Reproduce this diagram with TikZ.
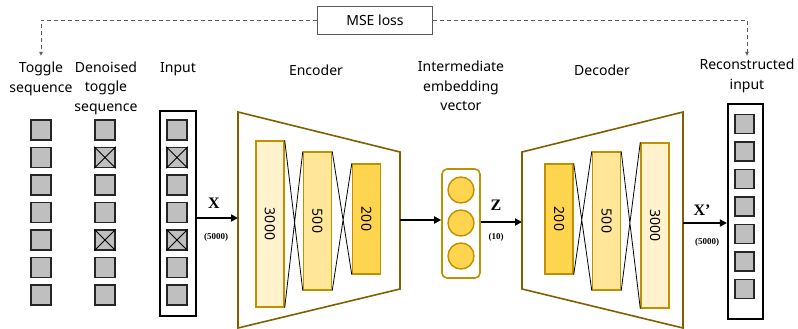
\documentclass[tikz,border=0pt]{standalone}
\usepackage{fontspec}
\setmainfont{Noto Sans}
\newfontfamily\numfont{Liberation Serif}
\usetikzlibrary{arrows.meta}

\definecolor{cellgray}{HTML}{BFBFBF}
\definecolor{olive}{HTML}{7F6000}
\definecolor{gold}{HTML}{BF9000}
\definecolor{layerA}{HTML}{FFF2CC}
\definecolor{layerB}{HTML}{FFE699}
\definecolor{layerC}{HTML}{FFD54F}
\definecolor{lossgray}{HTML}{595959}

\tikzset{
  lbl/.style={align=center, font=\fontsize{14}{19.5}\selectfont, inner sep=0pt},
  cell/.style={draw=black!85, fill=cellgray, line width=1.6pt, minimum size=20pt, inner sep=0pt},
  column/.style={draw=black, line width=2.2pt, inner sep=0pt},
  layer/.style={draw=gold, line width=1.4pt, minimum width=28pt, inner sep=0pt, font=\fontsize{14}{16}\selectfont},
  unit/.style={circle, draw=gold, fill=layerC, line width=1.4pt, minimum size=26pt, inner sep=0pt},
  arr/.style={line width=2.2pt, -{Triangle[length=7pt,width=7pt]}},
  lossline/.style={draw=lossgray, dashed, dash pattern=on 4pt off 3pt, line width=0.8pt},
  vec/.style={font=\numfont\bfseries\fontsize{16}{16}\selectfont},
  dim/.style={font=\numfont\bfseries\fontsize{9}{9}\selectfont}
}

\begin{document}
\begin{tikzpicture}[x=1pt, y=-1pt]

        \useasboundingbox (0,0) rectangle (798,329);

        %Titles
        \node [lbl] (toggletitle) at (41,79) {Toggle\\sequence};
        \node [lbl] (denoisedtitle) at (106,88) {Denoised\\toggle\\sequence};
        \node [lbl] (inputtitle) at (178,69) {Input};
        \node [lbl] (enctitle) at (316,70) {Encoder};
        \node [lbl] (embtitle) at (461,86) {Intermediate\\embedding\\vector};
        \node [lbl] (dectitle) at (602,70) {Decoder};
        \node [lbl] (recontitle) at (747,76) {Reconstructed\\input};

        %MSE loss
        \node [draw=lossgray, line width=0.8pt, minimum width=115pt, minimum height=28pt, font=\fontsize{14}{16}\selectfont] (mse) at (375,20) {MSE loss};
        \coordinate (lossL) at (41,56);
        \coordinate (lossR) at (747,56);
        \draw [lossline, -{Latex[length=4pt,width=4pt]}] (mse.west) -| (lossL);
        \draw [lossline, -{Latex[length=4pt,width=4pt]}] (mse.east) -| (lossR);

        %Toggle sequence
        \foreach \i in {0,...,6}
          \node [cell] (tog\i) at (41,130+27.5*\i) {};

        %Denoised toggle sequence
        \foreach \i in {0,...,6}
          \node [cell] (den\i) at (105,130+27.5*\i) {};
        \draw [line width=1pt] (den1.north west) -- (den1.south east) (den1.south west) -- (den1.north east);
        \draw [line width=1pt] (den4.north west) -- (den4.south east) (den4.south west) -- (den4.north east);

        %Input
        \node [column, minimum width=36pt, minimum height=205pt] (inbox) at (178,213.5) {};
        \foreach \i in {0,...,6}
          \node [cell] (in\i) at (177,130+27.5*\i) {};
        \draw [line width=1pt] (in1.north west) -- (in1.south east) (in1.south west) -- (in1.north east);
        \draw [line width=1pt] (in4.north west) -- (in4.south east) (in4.south west) -- (in4.north east);

        %Encoder
        \draw [draw=olive, line width=1.6pt] (238,112) -- (400,152) -- (400,289) -- (238,328) -- cycle;
        \coordinate (encin) at (238,218);
        \coordinate (encout) at (400,220);
        \node [layer, fill=layerA, minimum height=166pt] (enc1) at (270,224) {\rotatebox{-90}{3000}};
        \node [layer, fill=layerB, minimum height=138pt] (enc2) at (317.5,221) {\rotatebox{-90}{500}};
        \node [layer, fill=layerC, minimum height=110pt] (enc3) at (366.5,219) {\rotatebox{-90}{200}};
        \draw [line width=0.8pt] (enc1.north east) -- (enc2.south west) (enc1.south east) -- (enc2.north west);
        \draw [line width=0.8pt] (enc2.north east) -- (enc3.south west) (enc2.south east) -- (enc3.north west);

        \draw [arr] (inbox.east |- encin) -- (encin);
        \node [vec] (xlbl) at (214,203) {X};
        \node [dim] (xdim) at (216,237) {(5000)};

        %Intermediate embedding vector
        \node [draw=gold, line width=1.6pt, rounded corners=5pt, minimum width=38pt, minimum height=109pt, inner sep=0pt] (emb) at (461,223.5) {};
        \node [unit] (z0) at (461,190) {};
        \node [unit] (z1) at (461,223) {};
        \node [unit] (z2) at (461,256) {};
        \draw [arr] (encout) -- (emb.west |- encout);

        %Decoder
        \draw [draw=olive, line width=1.6pt] (522,152) -- (683,112) -- (683,328) -- (522,289) -- cycle;
        \coordinate (decin) at (522,222);
        \coordinate (decout) at (683,223);
        \node [layer, fill=layerC, minimum height=110pt] (dec1) at (559,219) {\rotatebox{-90}{200}};
        \node [layer, fill=layerB, minimum height=138pt] (dec2) at (606.5,221) {\rotatebox{-90}{500}};
        \node [layer, fill=layerA, minimum height=165pt] (dec3) at (655,225.5) {\rotatebox{-90}{3000}};
        \draw [line width=0.8pt] (dec1.north east) -- (dec2.south west) (dec1.south east) -- (dec2.north west);
        \draw [line width=0.8pt] (dec2.north east) -- (dec3.south west) (dec2.south east) -- (dec3.north west);

        \draw [arr] (emb.east |- decin) -- (decin);
        \node [vec] (zlbl) at (496,205) {Z};
        \node [dim] (zdim) at (496,237) {(10)};

        %Reconstructed input
        \node [column, minimum width=35pt, minimum height=215pt] (outbox) at (745.5,211.5) {};
        \foreach \i in {0,...,6}
          \node [cell, minimum size=19pt] (out\i) at (744.5,124+27.5*\i) {};

        \draw [arr] (decout) -- (outbox.west |- decout);
        \node [vec] (xplbl) at (702,210) {X’};
        \node [dim] (xpdim) at (707,242) {(5000)};

      \end{tikzpicture}
\end{document}
